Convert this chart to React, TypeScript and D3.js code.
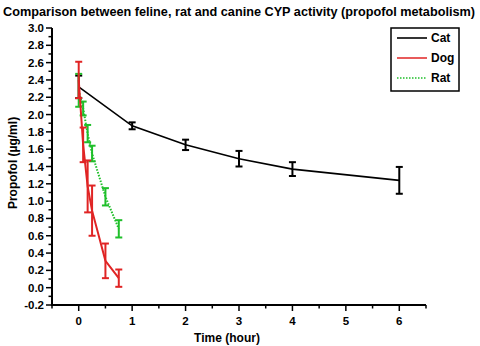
import React from "react";
import * as d3 from "d3";

const title = "Comparison between feline, rat and canine CYP activity (propofol metabolism)";
const catTime = [0, 1, 2, 3, 4, 6];
const catMean = [2.32, 1.87, 1.65, 1.49, 1.37, 1.24];
const catErr = [0.13, 0.04, 0.06, 0.09, 0.08, 0.155];
const dogTime = [0, 0.083, 0.167, 0.25, 0.5, 0.75];
const dogMean = [2.4, 1.65, 1.17, 0.89, 0.31, 0.11];
const dogErr = [0.21, 0.2, 0.3, 0.29, 0.2, 0.1];
const ratTime = [0, 0.083, 0.167, 0.25, 0.5, 0.75];
const ratMean = [2.28, 2.07, 1.78, 1.55, 1.05, 0.68];
const ratErr = [0.19, 0.08, 0.1, 0.09, 0.1, 0.1];
const xTicks = [0, 1, 2, 3, 4, 5, 6];
const yTicks = [-0.2, 0, 0.2, 0.4, 0.6, 0.8, 1.0, 1.2, 1.4, 1.6, 1.8, 2.0, 2.2, 2.4, 2.6, 2.8, 3.0];

const FONT = "'Liberation Sans', Arial, sans-serif";

export default function App() {
  const x = d3.scaleLinear().domain([-0.5, 6.5]).range([52, 426]);
  const y = d3.scaleLinear().domain([-0.2, 3.0]).range([305, 28]);
  const series = [
    { name: "Cat", t: catTime, m: catMean, e: catErr, color: "#000000", dash: "" },
    { name: "Dog", t: dogTime, m: dogMean, e: dogErr, color: "#e02424", dash: "" },
    { name: "Rat", t: ratTime, m: ratMean, e: ratErr, color: "#1fbf2a", dash: "1.5,1.5" },
  ];
  const line = d3.line<[number, number]>().x((d) => x(d[0])).y((d) => y(d[1]));
  const minorX = d3.range(-0.5, 6.51, 0.5);
  const minorY = d3.range(-0.2, 3.001, 0.1);
  const drawOrder = [series[0], series[2], series[1]];
  return (
    <svg width={480} height={346} style={{ position: "absolute", left: 0, top: 0, background: "#fff" }} fontFamily={FONT}>
      <rect width={480} height={346} fill="#fff" />
      <text x={239} y={16} textAnchor="middle" fontWeight="bold" fontSize={12.5} textLength={472} lengthAdjust="spacingAndGlyphs">{title}</text>
      {/* axes */}
      <line x1={52} x2={52} y1={y(3.0)} y2={306} stroke="#000" strokeWidth={2} />
      <line x1={51} x2={x(6.5)} y1={305} y2={305} stroke="#000" strokeWidth={2} />
      {minorY.map((v, i) => (
        <line key={"my" + i} x1={52} x2={i % 2 === 0 ? 46 : 48.5} y1={y(v)} y2={y(v)} stroke="#000" strokeWidth={1.5} />
      ))}
      {yTicks.map((v) => (
        <text key={"yt" + v} x={44} y={y(v) + 4} textAnchor="end" fontWeight="bold" fontSize={11.5}>{v.toFixed(1)}</text>
      ))}
      {minorX.map((v, i) => (
        <line key={"mx" + i} x1={x(v)} x2={x(v)} y1={305} y2={i % 2 === 1 ? 311 : 308.5} stroke="#000" strokeWidth={1.5} />
      ))}
      {xTicks.map((v) => (
        <text key={"xt" + v} x={x(v)} y={325} textAnchor="middle" fontWeight="bold" fontSize={11.5}>{v}</text>
      ))}
      <text x={227} y={342} textAnchor="middle" fontWeight="bold" fontSize={12}>Time (hour)</text>
      <text transform={`translate(17,163) rotate(-90)`} textAnchor="middle" fontWeight="bold" fontSize={12}>Propofol (µg/ml)</text>
      {/* series */}
      {drawOrder.map((s) => {
        const pts = s.t.map((t, i) => [t, s.m[i]] as [number, number]);
        return (
          <g key={s.name}>
            <path d={line(pts) || ""} fill="none" stroke={s.color} strokeWidth={s.name === "Cat" ? 1.6 : 2} strokeDasharray={s.dash} />
            {s.t.map((t, i) => {
              const cx = x(t);
              const top = y(s.m[i] + s.e[i]);
              const bot = y(s.m[i] - s.e[i]);
              return (
                <g key={i} stroke={s.color} strokeWidth={2}>
                  <line x1={cx} x2={cx} y1={top} y2={bot} />
                  <line x1={cx - 3.5} x2={cx + 3.5} y1={top} y2={top} />
                  <line x1={cx - 3.5} x2={cx + 3.5} y1={bot} y2={bot} />
                </g>
              );
            })}
          </g>
        );
      })}
      {/* legend */}
      <rect x={391} y={28} width={68} height={63} fill="#fff" stroke="#000" strokeWidth={1.5} />
      {series.map((s, i) => (
        <g key={"lg" + s.name}>
          <line x1={397} x2={427} y1={38 + i * 20} y2={38 + i * 20} stroke={s.color} strokeWidth={s.name === "Cat" ? 1.6 : 1.5} strokeDasharray={s.dash} />
          <text x={431} y={42 + i * 20} fontWeight="bold" fontSize={12}>{s.name}</text>
        </g>
      ))}
    </svg>
  );
}
